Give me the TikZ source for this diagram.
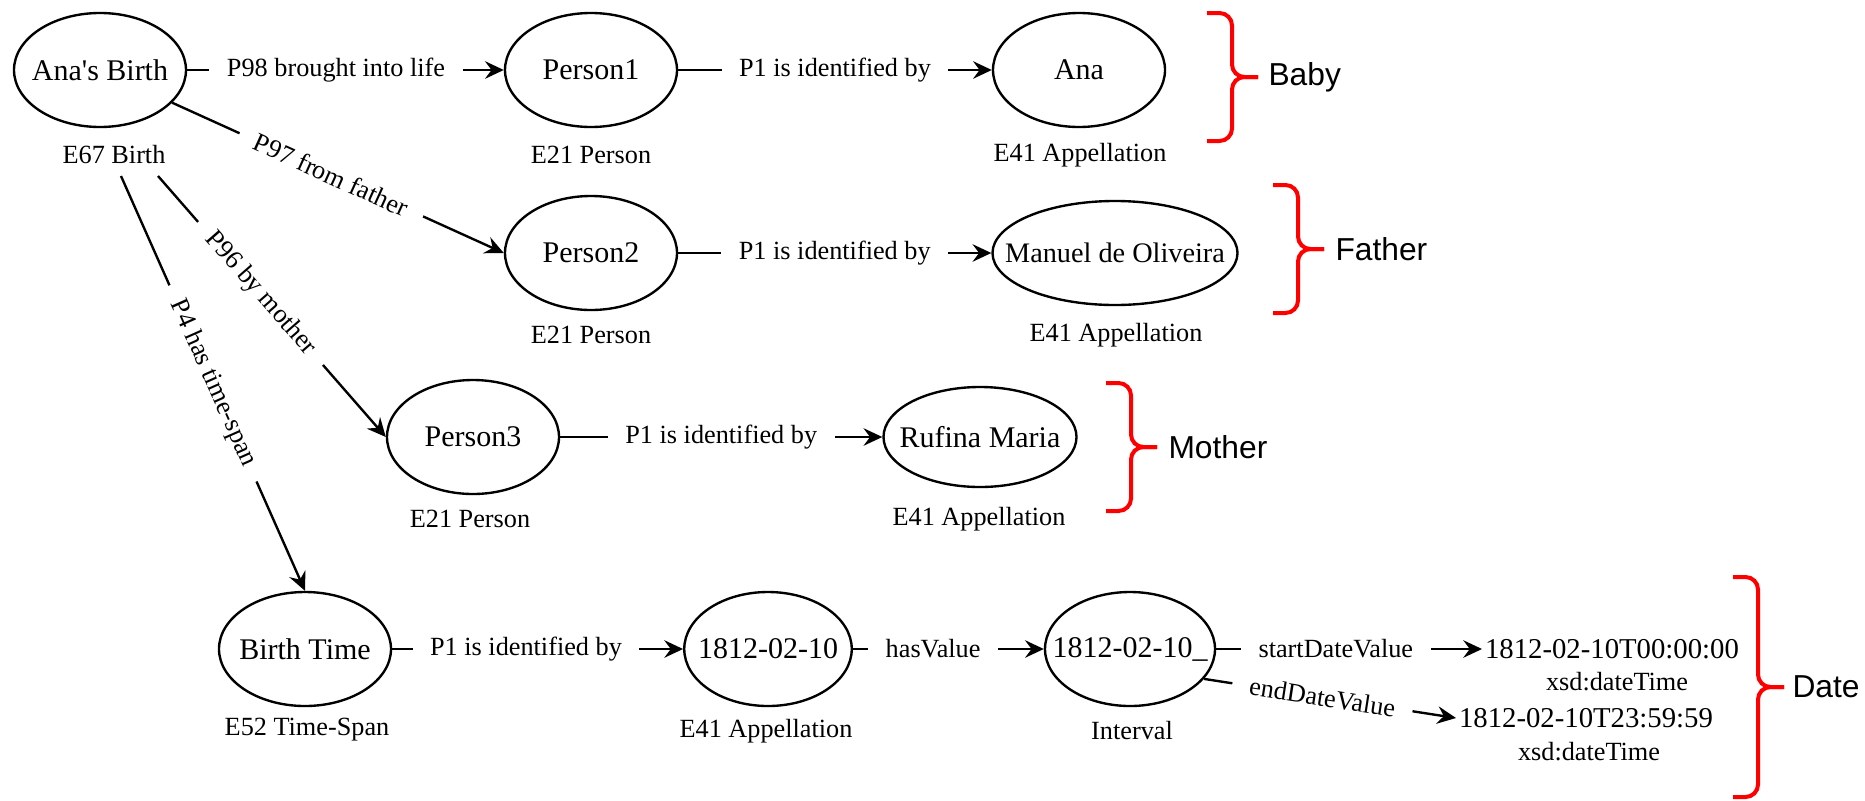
\documentclass[tikz,border=0pt]{standalone}
\usepackage{fontspec}
\setmainfont{Liberation Serif}
\newfontfamily\bracefont{Liberation Sans}
\usetikzlibrary{shapes.geometric, arrows.meta, calc}
\newcommand\zb[1]{\makebox[0pt]{#1}}
\newcommand\grpbrace[4]{%
  \draw[brc] (#1-25,#2) -- (#1,#2) -- (#1,#4) -- (#1+26,#4);
  \draw[brc] (#1-25,#3) -- (#1,#3) -- (#1,#4) -- (#1+26,#4);}
\begin{document}
\begin{tikzpicture}[x=0.4pt, y=-0.4pt,
  ent/.style={ellipse, draw, line width=0.95pt, inner sep=0pt, minimum width=68.8pt, minimum height=45.6pt, font=\fontsize{12}{14}\selectfont},
  cls/.style={font=\fontsize{10.5}{12}\selectfont, inner sep=1pt},
  val/.style={font=\fontsize{11.5}{13}\selectfont, inner sep=1pt},
  lab/.style={fill=white, inner xsep=7pt, inner ysep=1pt, font=\fontsize{10.5}{12}\selectfont},
  rel/.style={line width=0.95pt, ->},
  brc/.style={draw=red, line width=1.6pt, rounded corners=5pt},
  grp/.style={font=\bracefont\fontsize{12.7}{14}\selectfont, anchor=west, inner sep=0pt},
  >={Stealth[length=7.5pt,width=7pt,inset=2.6pt]}]
\useasboundingbox (0,0) rectangle (1865,800);

% row 1
\node[ent] (birth) at (100,70) {\zb{Ana\textquotesingle s Birth}};
\node[cls] (birthC) at (114,155) {E67 Birth};
\node[ent] (p1) at (591,70) {\zb{Person1}};
\node[cls] (p1C) at (591,155) {E21 Person};
\node[ent] (ana) at (1079,70) {\zb{Ana}};
\node[cls] (anaC) at (1080,155) {E41 Appellation};

% row 2
\node[ent] (p2) at (591,253) {\zb{Person2}};
\node[cls] (p2C) at (591,335) {E21 Person};
\node[ent, minimum width=98pt, minimum height=41.6pt, font=\fontsize{11.3}{13}\selectfont] (manuel) at (1115,253) {\zb{Manuel de Oliveira}};
\node[cls] (manuelC) at (1116,335) {E41 Appellation};

% row 3
\node[ent] (p3) at (473,437) {\zb{Person3}};
\node[cls] (p3C) at (470,519) {E21 Person};
\node[ent, minimum width=77.2pt, minimum height=40pt] (rufina) at (980,437) {\zb{Rufina Maria}};
\node[cls] (rufinaC) at (979,519) {E41 Appellation};

% row 4
\node[ent] (bt) at (305,649) {\zb{Birth Time}};
\node[cls] (btC) at (307,730) {E52 Time-Span};
\node[ent, minimum width=67pt] (d1) at (768,649) {\zb{1812-02-10}};
\node[cls] (d1C) at (766,731) {E41 Appellation};
\node[ent, minimum width=68pt] (iv) at (1130,649) {\zb{1812-02-10\_}};
\node[cls] (ivC) at (1132,731) {Interval};
\node[val, anchor=west] (s) at (1482,649) {1812-02-10T00:00:00};
\node[cls] (sC) at (1617,682) {xsd:dateTime};
\node[val, anchor=west] (e) at (1456,718) {1812-02-10T23:59:59};
\node[cls] (eC) at (1589,752) {xsd:dateTime};

\coordinate (p4s) at (121,176);
\coordinate (p96s) at (158,176);

% connectors
\draw[rel] (birth) -- node[lab, pos=0.47] {P98 brought into life} (p1);
\draw[rel] (p1) -- node[lab] {P1 is identified by} (ana);
\draw[rel] (birth) -- node[lab, sloped, pos=0.48] {P97 from father} (p2.west);
\draw[rel] (p96s) -- node[lab, sloped, pos=0.45] {P96 by mother} (p3.west);
\draw[rel] (p4s) -- node[lab, sloped, pos=0.5] {P4 has time-span} (bt.north);
\draw[rel] (p2) -- node[lab] {P1 is identified by} (manuel);
\draw[rel] (p3) -- node[lab] {P1 is identified by} (rufina);
\draw[rel] (bt) -- node[lab, pos=0.46] {P1 is identified by} (d1);
\draw[rel] (d1) -- node[lab, pos=0.42] {hasValue} (iv);
\draw[rel] (iv) -- node[lab, pos=0.45] {startDateValue} (s);
\draw[rel] (iv.-22) -- node[lab, sloped, pos=0.47] {endDateValue} (e.west);

% group braces
\grpbrace{1232}{13}{141}{77}
\node[grp] (baby) at (1268,77) {Baby};
\grpbrace{1298}{185}{313}{249}
\node[grp] (father) at (1335,249) {Father};
\grpbrace{1131}{383}{511}{447}
\node[grp] (mother) at (1168,447) {Mother};
\grpbrace{1758}{577}{797}{687}
\node[grp] (date) at (1792,687) {Date};
\end{tikzpicture}
\end{document}
